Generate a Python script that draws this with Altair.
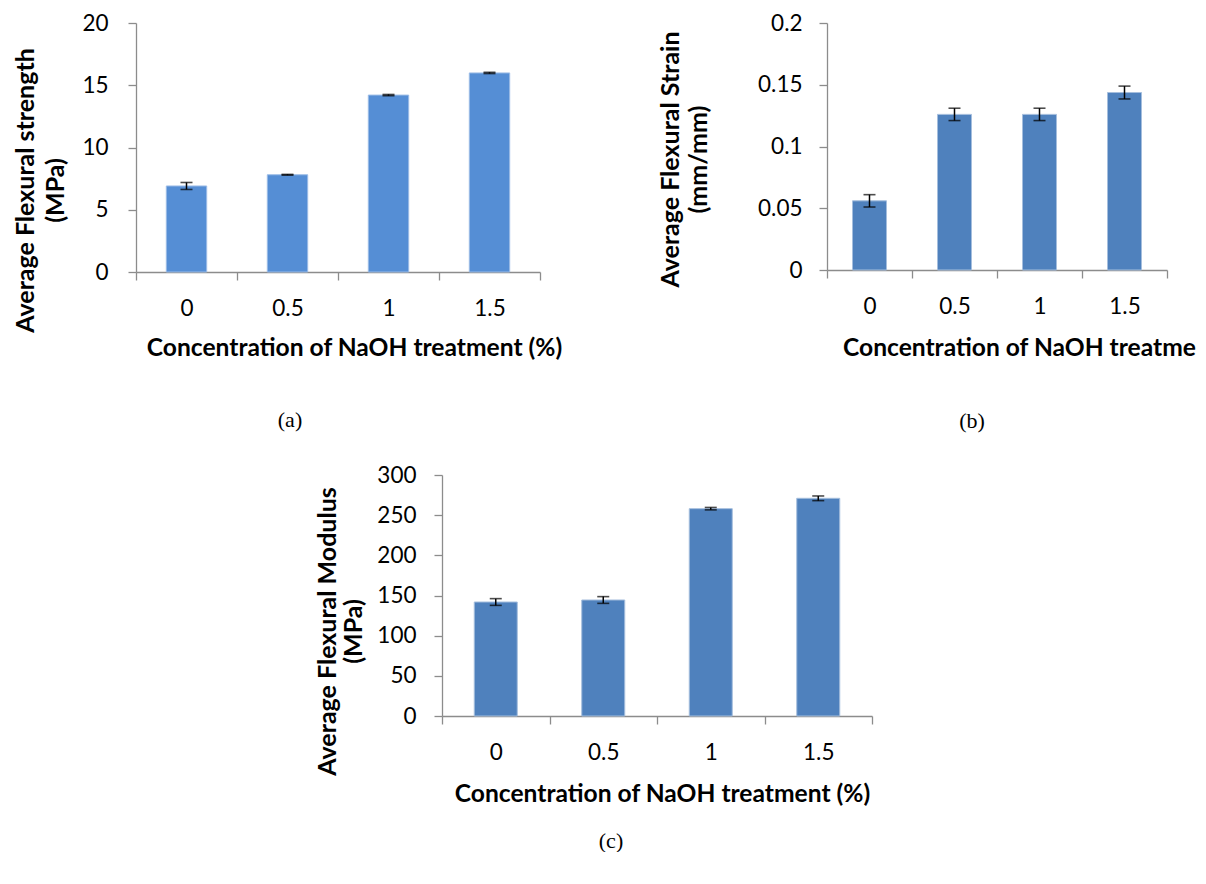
import altair as alt
import pandas as pd

conc = ["0", "0.5", "1", "1.5"]
strength = [6.91, 7.81, 14.21, 15.99]
strength_err = [0.28, 0.03, 0.05, 0.05]
strain = [0.056, 0.126, 0.126, 0.1437]
strain_err = [0.005, 0.005, 0.005, 0.0052]
modulus = [141.9, 144.4, 258.1, 271.0]
modulus_err = [4.2, 4.2, 1.5, 2.9]

x_title = "Concentration of NaOH treatment (%)"
XT_SIZE = 24.6


def panel(values, errs, ydomain, yticks, yformat, ytitle, color, edge, w, h,
          ytx, yty, ylh, ylp, xtx, xty, caption, cap_dx, cap_off, clip_title=None):
    df = pd.DataFrame({
        "conc": conc,
        "v": values,
        "lo": [v - e for v, e in zip(values, errs)],
        "hi": [v + e for v, e in zip(values, errs)],
    })
    if clip_title is None:
        xaxis = alt.Axis(title=x_title, tickBand="extent", labelAngle=0, tickSize=8,
                         labelPadding=17, titleX=xtx, titleY=xty, titleAlign="center",
                         titleBaseline="alphabetic", titleFontSize=XT_SIZE)
    else:
        xaxis = alt.Axis(title=None, tickBand="extent", labelAngle=0, tickSize=8,
                         labelPadding=17)
    yaxis = alt.Axis(values=yticks, format=yformat, title=ytitle, tickSize=8,
                     labelPadding=ylp, titleX=ytx, titleY=yty, titleAngle=270,
                     titleAlign="center", titleBaseline="alphabetic",
                     titleLineHeight=ylh, titleFontSize=25)
    xs = alt.Scale(paddingInner=0, paddingOuter=0)
    ys = alt.Scale(domain=ydomain, nice=False, zero=True)

    def X():
        return alt.X("conc:N", sort=conc, scale=xs, axis=xaxis)

    def Y(f):
        return alt.Y(f + ":Q", scale=ys, axis=yaxis)

    base = alt.Chart(df)
    bars = base.mark_bar(width=alt.RelativeBandSize(0.4), color=color,
                         stroke=edge, strokeWidth=1).encode(x=X(), y=Y("v"))
    rule = base.mark_rule(color="black", strokeWidth=1.5).encode(
        x=X(), y=Y("lo"), y2="hi:Q")
    cap_lo = base.mark_tick(color="black", size=12, thickness=1.6).encode(x=X(), y=Y("lo"))
    cap_hi = base.mark_tick(color="black", size=12, thickness=1.6).encode(x=X(), y=Y("hi"))
    layers = [bars, rule, cap_lo, cap_hi]
    if clip_title is not None:
        tdf = pd.DataFrame({"t": [x_title]})
        ttl = alt.Chart(tdf).mark_text(
            font="Lato", fontSize=XT_SIZE, fontWeight="bold", color="black",
            align="left", baseline="alphabetic", limit=clip_title, ellipsis="\u200b",
        ).encode(text="t:N", x=alt.value(xtx), y=alt.value(h + xty))
        layers.append(ttl)
    return alt.layer(*layers).properties(
        width=w, height=h,
        title=alt.TitleParams(caption, orient="bottom", anchor="middle", frame="group",
                              font="Liberation Serif", fontSize=22, fontWeight="normal",
                              color="black", dx=cap_dx, offset=cap_off, baseline="top"),
    )


pa = panel(strength, strength_err, [0, 20], [0, 5, 10, 15, 20], "d",
           ["Average Flexural strength", "(MPa)"], "#558ED5", "#9CBCE6",
           404, 249, -103, 167, 30, 20, 218, 83, "(a)", -48, 50)
pb = panel(strain, strain_err, [0, 0.2], [0, 0.05, 0.1, 0.15, 0.2], "~g",
           ["Average Flexural Strain", "(mm/mm)"], "#4F81BD", "#A5BEDD",
           340, 247, -149, 136, 28, 17, 16, 86, "(b)", -25, 50, clip_title=358)
pc = panel(modulus, modulus_err, [0, 300], [0, 50, 100, 150, 200, 250, 300], "d",
           ["Average Flexural Modulus", "(MPa)"], "#4F81BD", "#A5BEDD",
           430, 241, -107, 156, 26, 18, 220, 85, "(c)", -46, 25)

spacer = alt.Chart(pd.DataFrame({"s": [0]})).mark_point(opacity=0).encode(
    x=alt.X("s:Q", axis=None), y=alt.Y("s:Q", axis=None)).properties(width=300, height=10)

top = alt.hconcat(pa, pb, spacing=287, bounds="flush")
bottom = alt.hconcat(spacer, pc, spacing=6, bounds="flush")
chart = alt.vconcat(top, bottom, spacing=32).properties(
    padding={"left": 5, "top": 4, "right": 0, "bottom": 0}
).configure_axis(
    labelFont="Lato", labelFontSize=22.5, labelColor="black",
    titleFont="Lato", titleFontWeight="bold", titleColor="black",
    domainColor="#8c8c8c", tickColor="#8c8c8c", domainWidth=1.3, tickWidth=1.3, grid=False,
).configure_view(stroke=None)

chart.save("out.html", embed_options={"renderer": "svg", "actions": False})
